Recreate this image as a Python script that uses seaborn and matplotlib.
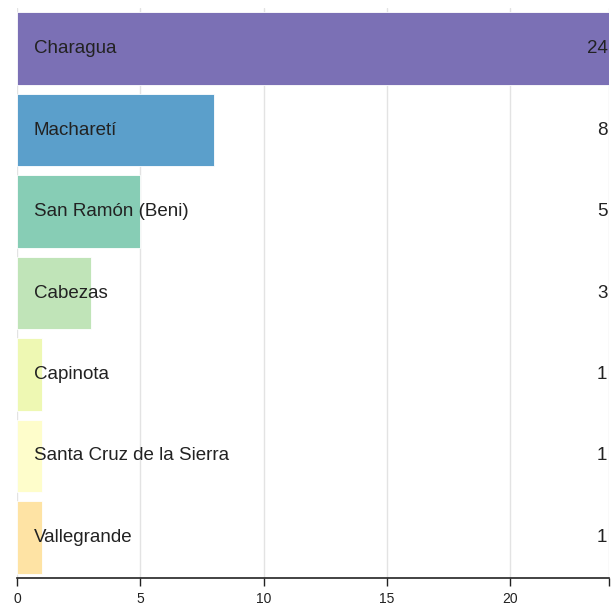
import matplotlib
matplotlib.use("Agg")
import matplotlib.pyplot as plt
import seaborn as sns
import pandas as pd

places = ["Charagua", "Macharetí", "San Ramón (Beni)", "Cabezas", "Capinota",
          "Santa Cruz de la Sierra", "Vallegrande"]
counts = [24, 8, 5, 3, 1, 1, 1]
colors = ["#7b70b5", "#5b9fcb", "#87cdb5", "#c0e4b8", "#eef8b3", "#fefdcb", "#fee3a4"]

df = pd.DataFrame({"place": places, "count": counts})

sns.set_theme(style="white")
plt.rcParams["font.family"] = ["Liberation Sans", "DejaVu Sans"]

fig = plt.figure(figsize=(6.11, 6.08), dpi=100)
ax = fig.add_axes([0.028, 0.049, 0.969, 0.938])

sns.barplot(data=df, x="count", y="place", hue="place", palette=colors,
            saturation=1, orient="h", width=0.89, dodge=False, legend=False,
            ax=ax, edgecolor="white", linewidth=0.6)

ax.set_xlim(0, 24)
ax.set_xticks([0, 5, 10, 15, 20, 24])
ax.set_xticklabels(["0", "5", "10", "15", "20", ""], fontsize=10, color="#222")
ax.xaxis.grid(True, color="#e3e3e3", linewidth=1)
ax.set_axisbelow(True)
ax.tick_params(axis="x", bottom=True, length=6, width=1, color="#222", pad=4)
ax.set_yticks([])
ax.set_xlabel("")
ax.set_ylabel("")
for s in ["left", "right", "top"]:
    ax.spines[s].set_visible(False)
ax.spines["bottom"].set_color("#222")
ax.spines["bottom"].set_linewidth(1.2)

for i, (p, c) in enumerate(zip(places, counts)):
    ax.text(0.68, i, p, va="center", ha="left", fontsize=13.5, color="#222")
    ax.text(23.93, i, str(c), va="center", ha="right", fontsize=13.5, color="#222")

fig.savefig("out.png", dpi=100)
